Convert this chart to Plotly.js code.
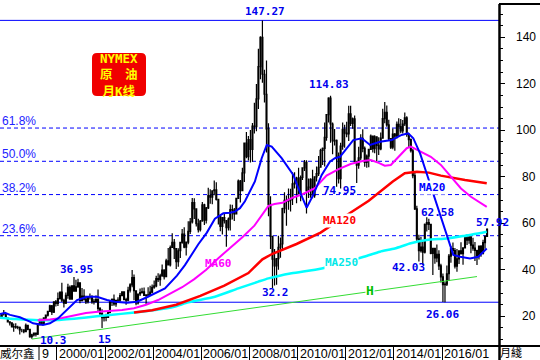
<!DOCTYPE html>
<html><head><meta charset="utf-8">
<script src="https://cdn.plot.ly/plotly-3.0.1.min.js"></script>
<style>html,body{margin:0;padding:0;background:#fff;}#chart{width:540px;height:360px;}</style>
</head><body><div id="chart"></div>
<script>
// ---------------- DATA ----------------
const firstMonth = [1997, 8]; // monthly candles start 1997/08
const open = [
20.1,19.6,21.2,21.0,19.2,
17.6,17.2,15.4,15.6,15.3,15.2,14.2,14.2,13.4,16.1,14.4,11.2,
12.05,12.75,12.3,16.8,18.7,16.8,19.3,20.5,22.1,24.5,21.8,26.2,
25.6,27.6,30.4,26.9,25.7,29.0,32.5,27.4,33.1,30.8,32.7,34.4,
26.8,28.7,27.4,26.3,28.5,28.4,26.3,26.4,27.2,23.4,21.2,19.4,
19.8,19.5,21.7,26.3,27.3,25.3,26.9,27.0,28.9,30.5,27.2,26.9,
31.2,33.5,36.6,31.0,25.8,29.6,30.2,30.5,29.0,29.2,29.1,30.4,
32.5,33.1,36.2,35.8,37.4,39.9,37.1,43.8,42.1,49.6,51.8,49.1,
43.5,48.2,51.8,55.4,49.7,51.9,56.5,60.6,68.9,66.2,59.8,57.3,
61.0,67.9,61.4,66.6,71.9,71.3,74.0,74.4,70.3,62.9,58.7,62.4,
61.1,58.1,61.8,65.9,65.7,64.0,70.7,78.2,74.0,81.7,94.5,88.7,
96.0,91.8,101.8,101.6,113.5,127.4,140.0,124.1,115.5,100.6,68.1,54.4,
44.6,41.7,44.8,49.7,51.1,66.3,69.9,69.5,70.0,70.6,77.0,77.3,
79.4,72.9,79.7,83.8,86.2,74.0,75.6,78.9,71.9,80.0,81.4,84.1,
91.4,92.2,97.0,106.7,113.9,102.7,95.4,95.7,88.8,79.2,93.2,100.4,
98.8,98.5,107.1,103.0,104.9,86.5,85.0,88.1,96.5,92.2,86.2,88.9,
91.8,97.5,92.1,97.2,93.5,92.0,96.6,105.0,107.7,102.3,96.4,92.7,
98.4,97.5,102.6,101.6,99.7,102.7,105.4,98.2,96.0,91.2,80.5,66.2,
53.3,48.2,49.8,47.6,59.6,60.3,59.5,47.1,49.2,45.1,46.6,41.7,
37.0,33.6,33.8,38.3,45.9,49.1,48.3,41.6,44.7,48.2,46.9,49.4,
53.7,52.8,54.0,50.6,49.3,48.3,46.0,50.2,47.2,51.7,54.4
];
const high = [
20.6,21.4,22.7,21.4,19.5,
17.9,17.3,16.9,17.0,15.9,15.6,14.6,14.3,16.9,16.3,14.6,12.5,
13.0,13.0,16.9,18.9,19.0,19.6,20.7,22.4,25.0,24.9,26.5,27.0,
30.2,30.5,34.4,27.5,30.2,34.0,33.3,33.4,36.95,35.7,36.2,34.5,
32.2,31.6,28.8,28.5,29.8,29.1,27.5,28.9,31.5,23.9,23.0,20.5,
21.1,21.8,26.5,27.7,29.4,27.0,28.2,30.0,30.8,30.7,28.0,32.7,
34.2,39.9,38.0,31.2,29.8,32.0,32.3,32.4,29.3,32.5,33.1,33.7,
35.4,37.4,38.5,38.3,42.3,40.2,44.8,49.4,50.5,55.7,53.2,49.4,
49.3,51.9,57.6,58.3,52.1,60.9,62.3,70.9,70.8,66.3,62.0,61.4,
69.2,68.4,67.0,75.3,74.6,74.2,78.4,77.7,70.4,63.5,62.5,64.0,
61.4,62.5,68.1,68.0,66.6,71.0,78.8,78.6,83.9,94.7,99.3,97.6,
100.1,103.1,111.8,119.9,135.1,140.4,147.27,126.0,130.0,103.0,71.6,54.7,
49.0,43.0,54.7,53.9,66.7,73.4,72.0,75.0,74.9,82.0,82.0,80.0,
83.9,80.6,83.9,87.2,87.1,79.3,79.4,83.0,80.2,84.4,89.0,92.1,
92.6,103.4,106.9,114.2,114.83,103.4,100.6,96.0,90.5,94.6,103.4,102.4,
103.7,110.6,110.6,105.5,106.4,86.9,92.9,98.3,100.4,93.0,89.6,92.0,
98.2,97.8,97.9,97.4,97.0,99.0,109.3,112.2,110.7,104.5,96.5,100.8,
98.8,103.8,105.2,104.9,104.4,107.7,106.0,98.7,96.5,92.0,82.0,67.6,
55.1,54.2,52.5,59.9,62.58,62.0,59.7,49.3,49.4,50.9,48.4,42.6,
38.4,35.0,41.9,46.8,50.2,51.7,49.4,49.0,48.4,51.9,49.5,54.5,
55.2,54.9,54.6,53.8,52.0,48.6,50.4,50.6,52.9,54.8,57.92
];
const low = [
19.0,19.0,20.4,19.2,17.6,
16.1,15.3,13.4,14.6,14.4,12.2,13.1,12.7,13.1,14.0,10.8,10.3,
11.3,11.3,12.0,16.1,16.8,16.6,18.7,19.9,21.9,20.6,21.4,24.2,
24.4,27.2,26.2,23.8,25.3,27.5,27.4,27.4,30.8,30.7,32.3,25.6,
26.4,26.8,25.3,25.5,27.2,25.4,25.1,25.8,21.8,20.6,15.0,17.8,
17.9,19.3,21.3,24.4,24.5,24.1,26.0,26.3,28.8,26.9,25.0,26.5,
30.2,32.5,26.9,24.8,25.1,28.7,29.8,28.8,25.0,28.7,28.8,29.9,
31.8,32.5,34.8,33.1,37.0,35.8,36.8,42.0,41.4,49.4,44.6,40.3,
41.3,45.1,51.2,49.3,46.2,51.0,55.4,59.9,61.8,58.6,56.0,56.5,
60.7,59.3,59.9,66.1,68.4,68.2,72.1,69.8,59.5,56.6,55.2,59.9,
49.9,56.9,56.9,61.6,61.0,63.9,70.5,69.0,73.8,77.8,88.0,87.0,
86.1,86.5,98.6,99.6,109.2,122.0,120.4,112.0,90.5,63.0,48.9,32.2,
33.2,33.6,40.0,45.2,48.3,64.3,59.0,65.8,65.1,67.9,75.0,68.6,
72.4,69.5,78.6,82.5,64.2,70.9,71.0,70.8,71.0,78.0,80.3,84.0,
85.1,84.4,95.5,103.4,94.6,89.7,93.5,75.7,77.1,74.95,91.6,92.5,
97.0,95.4,101.8,100.7,86.2,77.3,83.5,87.1,90.6,84.3,83.9,84.1,
91.7,90.5,90.1,86.1,89.4,91.4,96.5,103.0,101.5,95.6,92.0,91.8,
91.2,96.5,97.4,98.7,98.6,101.9,97.2,92.5,90.4,79.4,65.7,52.4,
43.6,47.4,42.03,47.0,56.5,57.1,46.7,37.75,42.6,43.2,39.9,34.5,
26.2,26.06,33.0,35.2,43.0,46.7,40.6,39.2,42.5,46.6,42.2,49.3,
50.7,51.2,47.1,48.2,43.8,42.05,44.4,45.6,46.6,49.1,54.2
];
const close = [
19.6,21.2,21.0,19.2,17.6,
17.2,15.4,15.6,15.3,15.2,14.2,14.2,13.4,16.1,14.4,11.2,12.05,
12.75,12.3,16.8,18.7,16.8,19.3,20.5,22.1,24.5,21.8,26.2,25.6,
27.6,30.4,26.9,25.7,29.0,32.5,27.4,33.1,30.8,32.7,34.4,26.8,
28.7,27.4,26.3,28.5,28.4,26.3,26.4,27.2,23.4,21.2,19.4,19.8,
19.5,21.7,26.3,27.3,25.3,26.9,27.0,28.9,30.5,27.2,26.9,31.2,
33.5,36.6,31.0,25.8,29.6,30.2,30.5,29.0,29.2,29.1,30.4,32.5,
33.1,36.2,35.8,37.4,39.9,37.1,43.8,42.1,49.6,51.8,49.1,43.5,
48.2,51.8,55.4,49.7,51.9,56.5,60.6,68.9,66.2,59.8,57.3,61.0,
67.9,61.4,66.6,71.9,71.3,74.0,74.4,70.3,62.9,58.7,62.4,61.1,
58.1,61.8,65.9,65.7,64.0,70.7,78.2,74.0,81.7,94.5,88.7,96.0,
91.8,101.8,101.6,113.5,127.4,140.0,124.1,115.5,100.6,68.1,54.4,44.6,
41.7,44.8,49.7,51.1,66.3,69.9,69.5,70.0,70.6,77.0,77.3,79.4,
72.9,79.7,83.8,86.2,74.0,75.6,78.9,71.9,80.0,81.4,84.1,91.4,
92.2,97.0,106.7,113.9,102.7,95.4,95.7,88.8,79.2,93.2,100.4,98.8,
98.5,107.1,103.0,104.9,86.5,85.0,88.1,96.5,92.2,86.2,88.9,91.8,
97.5,92.1,97.2,93.5,92.0,96.6,105.0,107.7,102.3,96.4,92.7,98.4,
97.5,102.6,101.6,99.7,102.7,105.4,98.2,96.0,91.2,80.5,66.2,53.3,
48.2,49.8,47.6,59.6,60.3,59.5,47.1,49.2,45.1,46.6,41.7,37.0,
33.6,33.8,38.3,45.9,49.1,48.3,41.6,44.7,48.2,46.9,49.4,53.7,
52.8,54.0,50.6,49.3,48.3,46.0,50.2,47.2,51.7,54.4,57.4
];

// moving averages
const ma20Dates = ['1997-08-18','1997-11-03','1998-01-18','1998-06-17','1998-11-16','1999-01-02','1999-06-02','1999-09-16','2000-01-16','2000-06-01','2000-10-31','2001-03-31','2001-08-30','2002-01-29','2002-05-29','2002-11-28','2003-04-28','2003-09-27','2004-04-12','2004-06-27','2004-12-26','2005-04-26','2005-11-15','2006-03-25','2006-07-25','2006-11-29','2007-03-09','2007-05-24','2007-08-09','2007-10-24','2008-03-23','2008-07-04','2008-09-19','2008-12-03','2009-05-03','2009-10-27','2010-01-11','2010-05-17','2010-08-26','2011-01-01','2011-05-05','2011-07-20','2011-10-05','2012-04-24','2012-08-30','2013-01-04','2013-06-03','2013-11-29','2014-04-28','2014-08-07','2014-10-22','2015-02-02','2015-05-12','2015-08-21','2015-12-01','2016-03-12','2016-06-20','2016-10-01','2017-03-01','2017-07-04','2017-11-10'];
const ma20Vals = [21.0,21.5,20.6,19.6,17.7,17.0,16.3,17.0,19.1,22.7,27.0,28.4,28.4,27.0,26.3,25.8,26.3,28.2,30.8,32.0,37.5,42.0,51.0,56.0,62.0,64.3,64.5,65.0,66.5,69.5,78.0,88.0,93.7,93.0,88.0,80.8,75.1,66.7,72.2,80.8,86.5,88.0,88.6,95.8,96.6,93.7,95.1,95.8,98.0,98.7,96.6,90.1,81.5,72.9,64.3,55.7,46.4,45.6,44.9,45.6,49.2];

const ma60Dates = ['1999-03-15','1999-09-15','2000-03-15','2000-09-15','2001-03-15','2001-09-15','2002-03-15','2002-09-15','2003-03-15','2003-09-15','2004-03-15','2004-09-15','2005-03-15','2005-09-15','2006-03-15','2006-09-15','2007-03-15','2007-09-15','2008-03-15','2008-07-15','2008-10-15','2009-01-15','2009-05-15','2009-10-15','2010-03-15','2010-09-15','2011-03-15','2011-09-15','2012-03-15','2012-09-15','2013-01-15','2013-05-15','2013-08-15','2013-11-15','2014-02-15','2014-07-15','2014-09-15','2015-02-15','2015-07-15','2015-12-15','2016-05-15','2016-10-15','2017-03-15','2017-07-15','2017-11-10'];
const ma60Vals = [18.3,18.6,19.3,20.3,21.4,22.0,22.3,22.7,23.5,25.0,27.0,29.8,32.5,36.0,40.0,45.0,49.5,54.0,59.0,63.6,67.5,68.3,68.8,71.0,72.5,75.0,80.5,83.3,85.5,86.8,87.2,86.0,84.8,85.1,88.0,92.3,93.0,90.8,88.6,85.1,80.0,75.0,71.4,69.3,67.1];

const ma120Dates = ['2003-03-15','2003-12-15','2004-12-15','2005-12-15','2006-12-15','2007-12-15','2008-07-15','2008-12-15','2009-12-15','2010-12-15','2011-12-15','2012-12-15','2013-12-15','2014-06-15','2014-12-15','2015-06-15','2015-12-15','2016-06-15','2016-12-15','2017-11-10'];
const ma120Vals = [21.6,22.6,25.0,28.8,33.2,38.6,44.5,46.9,51.1,56.0,62.9,69.7,78.0,81.5,82.2,81.8,80.5,79.5,78.6,77.2];

const ma250Dates = ['1997-08-18','1998-04-15','1999-04-01','2000-01-15','2001-02-15','2002-03-15','2003-02-15','2004-02-01','2004-11-15','2005-06-15','2006-07-25','2007-07-15','2008-05-15','2008-10-15','2009-10-01','2011-01-01','2012-10-01','2013-06-03','2014-01-15','2014-09-15','2015-05-15','2016-03-12','2016-11-15','2017-11-10'];
const ma250Vals = [19.4,18.8,18.3,18.4,19.4,20.6,21.5,22.7,24.1,26.0,28.4,32.0,34.9,36.3,38.5,40.6,45.6,47.8,49.2,51.4,52.8,53.5,54.5,56.4];

const trendDates = ['1998-12-15','2017-06-15'];
const trendVals = [10.2,37.1];

const levelVals = [147.27, 26.06];
const fibVals = [54.67, 72.36, 86.67, 100.97];
const fibLabels = ['23.6%','38.2%','50.0%','61.8%'];

const xTickVals = ['2000-01-01','2002-01-01','2004-01-01','2006-01-01','2008-01-01','2010-01-01','2012-01-01','2014-01-01','2016-01-01'];
const xTickText = ['2000/01','2002/01','2004/01','2006/01','2008/01','2010/01','2012/01','2014/01','2016/01'];
const yTickVals = [20,40,60,80,100,120,140];

const ptText  = ['147.27','114.83','36.95','10.3','15','32.2','74.95','62.58','57.92','42.03','26.06'];
const ptDates = ['2008-08-23','2011-04-28','2000-10-30','1999-11-16','2001-12-28','2009-01-30','2011-10-05','2015-11-01','2018-01-29','2014-08-17','2016-01-01'];
const ptVals  = [151.3,119.7,40.1,9.6,10.2,30.2,73.9,64.6,60.3,41.0,20.6];

// ---------------- BUILD ----------------
const months = [];
for (let i = 0; i < close.length; i++) {
  const k = firstMonth[1] - 1 + i;
  const y = firstMonth[0] + Math.floor(k / 12);
  const m = (k % 12) + 1;
  months.push(y + '-' + String(m).padStart(2, '0') + '-15');
}

const traces = [
  {type:'candlestick', x:months, open:open, high:high, low:low, close:close,
   increasing:{line:{color:'#000',width:1.2}, fillcolor:'#000'},
   decreasing:{line:{color:'#000',width:1.2}, fillcolor:'#000'},
   whiskerwidth:0, hoverinfo:'skip', showlegend:false},
  {type:'scatter', mode:'lines', x:trendDates, y:trendVals, line:{color:'#33dd33', width:1}, hoverinfo:'skip', showlegend:false},
  {type:'scatter', mode:'lines', x:ma250Dates, y:ma250Vals, line:{color:'#00ffff', width:2.5, shape:'spline', smoothing:0.6}, hoverinfo:'skip', showlegend:false},
  {type:'scatter', mode:'lines', x:ma120Dates, y:ma120Vals, line:{color:'#ff0000', width:2.5}, hoverinfo:'skip', showlegend:false},
  {type:'scatter', mode:'lines', x:ma60Dates, y:ma60Vals, line:{color:'#ff00ff', width:2}, hoverinfo:'skip', showlegend:false},
  {type:'scatter', mode:'lines', x:ma20Dates, y:ma20Vals, line:{color:'#0000ff', width:2}, hoverinfo:'skip', showlegend:false}
];

const W = 499, H = 342; // plot area size in px
const shapes = [];
levelVals.forEach(v => shapes.push({type:'line', xref:'paper', x0:0, x1:1, yref:'y', y0:v, y1:v, line:{color:'#0000ff', width:1}, layer:'below'}));
fibVals.forEach(v => shapes.push({type:'line', xref:'paper', x0:0, x1:1, yref:'y', y0:v, y1:v, line:{color:'#0000ff', width:1, dash:'4px,3px'}, layer:'below'}));
// frame
shapes.push({type:'line', xref:'paper', yref:'paper', x0:0, x1:541/W, y0:0, y1:0, line:{color:'#000', width:2}});
shapes.push({type:'line', xref:'paper', yref:'paper', x0:1+0.5/W, x1:1+0.5/W, y0:-15/H, y1:1, line:{color:'#000', width:2.5}});
shapes.push({type:'line', xref:'paper', yref:'paper', x0:1, x1:541/W, y0:1, y1:1, line:{color:'#000', width:2}});
shapes.push({type:'line', xref:'paper', yref:'paper', x0:39/W, x1:39/W, y0:-15/H, y1:0, line:{color:'#000', width:1}});
// NYMEX badge
(function(){
  const x0 = 92/W, x1 = 146/W, y0 = (346-96)/H, y1 = (346-53)/H;
  const rx = 5/W, ry = 5/H;
  const p = `M ${x0+rx} ${y1} L ${x1-rx} ${y1} Q ${x1} ${y1} ${x1} ${y1-ry} L ${x1} ${y0+ry} Q ${x1} ${y0} ${x1-rx} ${y0} L ${x0+rx} ${y0} Q ${x0} ${y0} ${x0} ${y0+ry} L ${x0} ${y1-ry} Q ${x0} ${y1} ${x0+rx} ${y1} Z`;
  shapes.push({type:'path', xref:'paper', yref:'paper', path:p, fillcolor:'#f00000', line:{width:0}});
})();

const ann = [];
const monoBlue = {family:'DejaVu Sans Mono, Liberation Mono, monospace', size:11, color:'#0000ee'};
ptText.forEach((t,i) => ann.push({x:ptDates[i], y:ptVals[i], xref:'x', yref:'y', text:'<b>'+t+'</b>', showarrow:false, font:monoBlue, xanchor:'center', yanchor:'middle'}));
fibVals.forEach((v,i) => ann.push({x:0, xref:'paper', y:v, yref:'y', text:fibLabels[i], showarrow:false, xanchor:'left', yanchor:'middle', yshift:7, xshift:0,
  font:{family:'Liberation Sans, Arial, sans-serif', size:12, color:'#2222ff'}}));
// MA labels
const maLab = [
  ['MA20','2015-08-16',75.6,'#0000ff',true,11],
  ['MA60','2006-09-24',42.5,'#ff00ff',false,11],
  ['MA120','2011-10-05',61.0,'#ff0000',true,11],
  ['MA250','2011-10-28',43.1,'#00e8e8',true,11],
  ['H','2013-01-04',30.9,'#00c000',true,13]
];
maLab.forEach(m => ann.push({x:m[1], y:m[2], xref:'x', yref:'y', text:'<b>'+m[0]+'</b>', showarrow:false,
  font:{family:'DejaVu Sans Mono, Liberation Mono, monospace', size:m[5], color:m[3]}, bgcolor: m[4] ? '#ffffff' : 'rgba(0,0,0,0)', borderpad:0}));
// y tick labels (right aligned)
yTickVals.forEach(v => ann.push({x:538/W, xref:'paper', y:v, yref:'y', text:String(v), showarrow:false, xanchor:'right', yanchor:'middle',
  font:{family:'Liberation Sans, Arial, sans-serif', size:12, color:'#000'}}));
// x tick labels
xTickVals.forEach((d,i) => ann.push({x:d, xref:'x', y:0, yref:'paper', text:xTickText[i], showarrow:false, xanchor:'left', yanchor:'middle', yshift:-7.5,
  font:{family:'Liberation Sans, Arial, sans-serif', size:12.5, color:'#000'}}));
ann.push({x:40/W, xref:'paper', y:0, yref:'paper', text:'9', showarrow:false, xanchor:'left', yanchor:'middle', yshift:-7.5,
  font:{family:'Liberation Sans, Arial, sans-serif', size:12.5, color:'#000'}});
ann.push({x:0, xref:'paper', y:0, yref:'paper', text:'威尔鑫', showarrow:false, xanchor:'left', yanchor:'middle', yshift:-7, xshift:-1, borderpad:0,
  font:{family:'Liberation Sans, Noto Sans CJK SC, sans-serif', size:11.5, color:'#000'}});
ann.push({x:511/W, xref:'paper', y:0, yref:'paper', text:'月綫', showarrow:false, xanchor:'center', yanchor:'middle', yshift:-7, borderpad:0,
  font:{family:'Liberation Sans, Noto Sans CJK SC, sans-serif', size:11, color:'#000'}});
// badge text (three lines in one block)
ann.push({x:119/W, xref:'paper', y:(346-75)/H, yref:'paper', text:'<b>NYMEX</b><br><b>原　油</b><br><b>月K线</b>', showarrow:false,
  xanchor:'center', yanchor:'middle', align:'center', borderpad:0,
  font:{family:'DejaVu Sans Mono, Noto Sans CJK SC, monospace', size:12.5, color:'#ffff00'}});

const layout = {
  width:540, height:360, margin:{l:0, r:41, t:4, b:14, pad:0},
  paper_bgcolor:'#fff', plot_bgcolor:'#fff', showlegend:false,
  xaxis:{type:'date', range:['1997-08-19','2018-05-15'], rangeslider:{visible:false}, showgrid:false, zeroline:false, showline:false,
    ticks:'outside', ticklen:14, tickwidth:1, tickcolor:'#000', tickmode:'array', tickvals:xTickVals, showticklabels:false, fixedrange:true},
  yaxis:{side:'right', range:[7.23,154.32], showgrid:false, zeroline:false, showline:false,
    ticks:'outside', ticklen:5, tickwidth:1, tickcolor:'#000', tickmode:'array', tickvals:yTickVals, showticklabels:false, fixedrange:true,
    minor:{tickmode:'linear', tick0:0, dtick:5, ticks:'outside', ticklen:3, tickwidth:1, tickcolor:'#000', showgrid:false}},
  shapes:shapes, annotations:ann
};
Plotly.newPlot('chart', traces, layout, {staticPlot:true, displayModeBar:false});
</script>
</body></html>
